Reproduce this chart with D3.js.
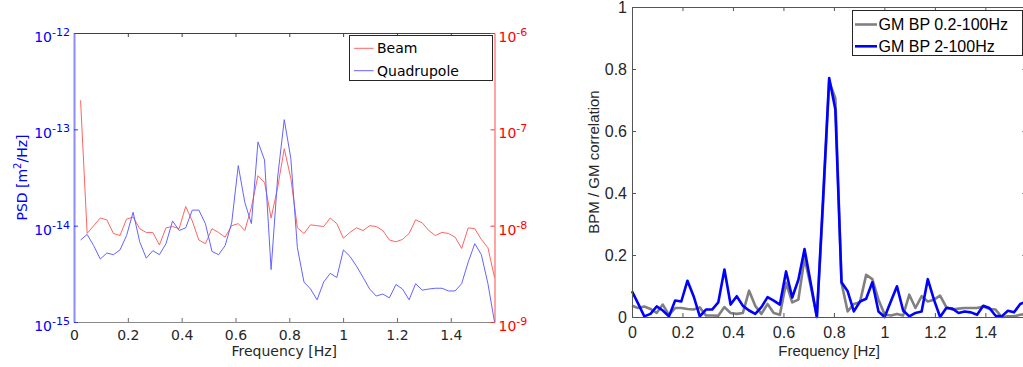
<!DOCTYPE html>
<html>
<head>
<meta charset="utf-8">
<script src="https://cdn.jsdelivr.net/npm/d3@7"></script>
<style>
  body { margin: 0; background: #fff; }
  svg { display: block; }
</style>
</head>
<body>
<svg id="fig" width="1023" height="367"></svg>
<script>
// Frequency resolution of the spectra (Hz per bin)
const STEP = 25 / 1024;

// PSD of the beam position [m^2/Hz], bins 1..64
const beamPSD = [
  2.0e-7, 8.3e-9, 1.0e-8, 1.2e-8, 1.15e-8, 8.3e-9, 7.9e-9, 1.17e-8, 1.23e-8, 9.3e-9,
  8.5e-9, 8.5e-9, 6.3e-9, 9.5e-9, 9.8e-9, 9.3e-9, 1.58e-8, 1.12e-8, 7.1e-9, 6.5e-9,
  9.3e-9, 8.5e-9, 7.6e-9, 1.0e-8, 1.05e-8, 8.9e-9, 1.55e-8, 3.3e-8, 2.8e-8, 1.2e-8,
  2.5e-8, 6.3e-8, 3.1e-8, 9.5e-9, 8.3e-9, 1.02e-8, 1.0e-8, 9.8e-9, 1.2e-8, 1.05e-8,
  7.4e-9, 8.5e-9, 9.5e-9, 8.9e-9, 1.0e-8, 9.8e-9, 8.9e-9, 7.1e-9, 6.8e-9, 7.2e-9,
  8.3e-9, 1.15e-8, 1.07e-8, 8.9e-9, 7.9e-9, 8.5e-9, 8.3e-9, 7.6e-9, 5.8e-9, 9.5e-9,
  9.3e-9, 7.2e-9, 5.9e-9, 2.9e-9
];

// PSD of the quadrupole motion [m^2/Hz], bins 1..64
const quadPSD = [
  7.1e-15, 8.1e-15, 6.2e-15, 4.5e-15, 5.2e-15, 5.0e-15, 5.6e-15, 7.9e-15, 1.38e-14, 6.8e-15,
  4.6e-15, 5.5e-15, 5.0e-15, 6.5e-15, 1.12e-14, 8.9e-15, 9.5e-15, 1.45e-14, 1.45e-14, 1.05e-14,
  5.4e-15, 5.0e-15, 6.2e-15, 1.07e-14, 4.2e-14, 1.74e-14, 1.05e-14, 7.4e-14, 4.8e-14, 3.5e-15,
  3.2e-14, 1.26e-13, 5.0e-14, 5.9e-15, 2.6e-15, 2.2e-15, 1.7e-15, 2.6e-15, 3.2e-15, 2.9e-15,
  5.6e-15, 4.8e-15, 3.8e-15, 2.9e-15, 2.2e-15, 1.86e-15, 1.95e-15, 1.78e-15, 2.45e-15, 2.2e-15,
  1.7e-15, 2.5e-15, 2.14e-15, 2.2e-15, 2.24e-15, 2.24e-15, 2.1e-15, 2.1e-15, 2.5e-15, 4.2e-15,
  6.5e-15, 5.0e-15, 2.5e-15, 1.0e-15
];

// BPM / ground-motion correlation, bins 0..64
const corrBP02 = [
  0.036, 0.029, 0.034, 0.026, 0.013, 0.040, 0.007, 0.029, 0.029, 0.026,
  0.024, 0.031, 0.005, 0.005, 0.004, 0.032, 0.013, 0.010, 0.013, 0.085,
  0.036, 0.010, 0.042, 0.013, 0.007, 0.110, 0.047, 0.056, 0.190, 0.100,
  0.000, 0.360, 0.760, 0.706, 0.110, 0.018, 0.042, 0.048, 0.136, 0.122,
  0.056, 0.008, 0.005, 0.010, 0.005, 0.072, 0.029, 0.067, 0.050, 0.056,
  0.069, 0.032, 0.024, 0.027, 0.029, 0.029, 0.029, 0.034, 0.026, 0.024,
  0.000, 0.002, 0.002, 0.007, 0.010
];
const corrBP2 = [
  0.083, 0.043, 0.002, 0.010, 0.034, 0.021, 0.002, 0.053, 0.050, 0.117,
  0.067, 0.002, 0.024, 0.024, 0.047, 0.153, 0.040, 0.067, 0.036, 0.021,
  0.010, 0.032, 0.064, 0.053, 0.040, 0.147, 0.063, 0.120, 0.219, 0.110,
  0.000, 0.380, 0.771, 0.669, 0.112, 0.083, 0.018, 0.050, 0.059, 0.112,
  0.018, 0.000, 0.050, 0.099, 0.021, 0.002, 0.013, 0.018, 0.122, 0.056,
  0.000, 0.029, 0.027, 0.013, 0.018, 0.015, 0.007, 0.036, 0.029, 0.004,
  0.002, 0.020, 0.015, 0.042, 0.050
];

const freqTicks = [0, 0.2, 0.4, 0.6, 0.8, 1, 1.2, 1.4];
const corrTicks = [0, 0.2, 0.4, 0.6, 0.8, 1];
const quadDecades = [1e-15, 1e-14, 1e-13, 1e-12];
const beamDecades = [1e-9, 1e-8, 1e-7, 1e-6];
const psdNames = ["Beam", "Quadrupole"];
const corrNames = ["GM BP 0.2-100Hz", "GM BP 2-100Hz"];

const svg = d3.select("#fig");
const fmt = d3.format("~g");
const FONT_L = "'DejaVu Sans', Verdana, sans-serif";
const FONT_R = "'Liberation Sans', Arial, Helvetica, sans-serif";

/* ---------------- Left panel: PSD, two log axes ---------------- */
const L = { x0: 74, x1: 494.5, y0: 322, y1: 33 };
const xL = d3.scaleLinear().domain([0, 64 * STEP]).range([L.x0, L.x1]);
const yQ = d3.scaleLog().domain([1e-15, 1e-12]).range([L.y0, L.y1]);
const yB = d3.scaleLog().domain([1e-9, 1e-6]).range([L.y0, L.y1]);

const gL = svg.append("g").attr("font-family", FONT_L);

// bottom axis with labels
const axB = gL.append("g").attr("transform", `translate(0,${L.y0})`)
  .call(d3.axisBottom(xL).tickValues(freqTicks).tickFormat(fmt)
    .tickSizeInner(-4).tickSizeOuter(0).tickPadding(8))
  .attr("font-family", FONT_L).attr("font-size", 14);
axB.select(".domain").attr("stroke", "#8a8a8a");
axB.selectAll(".tick line").attr("stroke", "#6a6a6a");
axB.selectAll("text").attr("fill", "#262626");

// top axis (ticks only)
const axT = gL.append("g").attr("transform", `translate(0,${L.y1})`)
  .call(d3.axisTop(xL).tickValues(freqTicks).tickFormat("")
    .tickSizeInner(-4).tickSizeOuter(0));
axT.select(".domain").attr("stroke", "#404040");
axT.selectAll(".tick line").attr("stroke", "#404040");

// power-of-ten labels: "10" with a raised exponent
function decadeLabel(sel) {
  sel.each(function (d) {
    const t = d3.select(this);
    t.text(null).attr("dy", null).attr("y", 8.5);
    t.append("tspan").attr("font-size", 14).text("10");
    t.append("tspan").attr("font-size", 11).attr("dy", -6).text(Math.round(Math.log10(d)));
  });
}

// left (quadrupole) log axis
const axQ = gL.append("g").attr("transform", `translate(${L.x0},0)`)
  .call(d3.axisLeft(yQ).tickValues(quadDecades).tickSizeInner(-4).tickSizeOuter(0).tickPadding(4))
  .attr("font-family", FONT_L);
axQ.select(".domain").attr("stroke", "#8c8cff").attr("stroke-width", 2);
axQ.selectAll(".tick line").attr("stroke", "#3030ff");
axQ.selectAll("text").attr("fill", "#0000ff").call(decadeLabel);

// right (beam) log axis
const axBm = gL.append("g").attr("transform", `translate(${L.x1},0)`)
  .call(d3.axisRight(yB).tickValues(beamDecades).tickSizeInner(-4).tickSizeOuter(0).tickPadding(4))
  .attr("font-family", FONT_L);
axBm.select(".domain").attr("stroke", "#ff8c8c").attr("stroke-width", 1.6);
axBm.selectAll(".tick line").attr("stroke", "#ff3030");
axBm.selectAll("text").attr("fill", "#ff0000").call(decadeLabel);

// series
const lineBeam = d3.line().x((d, i) => xL((i + 1) * STEP)).y(d => yB(d));
const lineQuad = d3.line().x((d, i) => xL((i + 1) * STEP)).y(d => yQ(d));
gL.append("path").datum(beamPSD).attr("d", lineBeam)
  .attr("fill", "none").attr("stroke", "#ff6464").attr("stroke-width", 1);
gL.append("path").datum(quadPSD).attr("d", lineQuad)
  .attr("fill", "none").attr("stroke", "#6464ff").attr("stroke-width", 1);

// axis titles
gL.append("text").attr("x", (L.x0 + L.x1) / 2).attr("y", 356)
  .attr("text-anchor", "middle").attr("font-size", 14).attr("fill", "#262626")
  .text("Frequency [Hz]");
const psdLab = gL.append("text")
  .attr("transform", `translate(26.5,${(L.y0 + L.y1) / 2}) rotate(-90)`)
  .attr("text-anchor", "middle").attr("font-size", 14).attr("fill", "#0000ff");
psdLab.append("tspan").text("PSD [m");
psdLab.append("tspan").attr("font-size", 10).attr("dy", -6).text("2");
psdLab.append("tspan").attr("dy", 6).text("/Hz]");

// legend
const legL = gL.append("g");
legL.append("rect").attr("x", 349.5).attr("y", 35.5).attr("width", 143).attr("height", 45)
  .attr("fill", "#fff").attr("stroke", "#262626").attr("stroke-width", 1);
const psdColors = ["#ff6464", "#6464ff"];
psdNames.forEach((name, i) => {
  const cy = 48.3 + i * 22.4;
  legL.append("line").attr("x1", 354).attr("x2", 373.5).attr("y1", cy).attr("y2", cy)
    .attr("stroke", psdColors[i]).attr("stroke-width", 1);
  legL.append("text").attr("x", 377).attr("y", cy + 5).attr("font-size", 14)
    .attr("fill", "#000").text(name);
});

/* ---------------- Right panel: correlation ---------------- */
const R = { x0: 632, x1: 632 + 64 * STEP * 252.4, y0: 317, y1: 7 };
const xR = d3.scaleLinear().domain([0, 64 * STEP]).range([R.x0, R.x1]);
const yC = d3.scaleLinear().domain([0, 1]).range([R.y0, R.y1]);

const gR = svg.append("g").attr("font-family", FONT_R);

const lineCorr = d3.line().x((d, i) => xR(i * STEP)).y(d => yC(d));
gR.append("path").datum(corrBP02).attr("d", lineCorr)
  .attr("fill", "none").attr("stroke", "#808080").attr("stroke-width", 2.6)
  .attr("stroke-linejoin", "round");
gR.append("path").datum(corrBP2).attr("d", lineCorr)
  .attr("fill", "none").attr("stroke", "#0000ff").attr("stroke-width", 2.6)
  .attr("stroke-linejoin", "round");

const axRB = gR.append("g").attr("transform", `translate(0,${R.y0})`)
  .call(d3.axisBottom(xR).tickValues(freqTicks).tickFormat(fmt)
    .tickSizeInner(-4).tickSizeOuter(0).tickPadding(10));
const axRT = gR.append("g").attr("transform", `translate(0,${R.y1})`)
  .call(d3.axisTop(xR).tickValues(freqTicks).tickFormat("")
    .tickSizeInner(-4).tickSizeOuter(0));
const axRL = gR.append("g").attr("transform", `translate(${R.x0},0)`)
  .call(d3.axisLeft(yC).tickValues(corrTicks).tickFormat(fmt)
    .tickSizeInner(-4).tickSizeOuter(0).tickPadding(5));
const axRR = gR.append("g").attr("transform", `translate(${R.x1},0)`)
  .call(d3.axisRight(yC).tickValues(corrTicks).tickFormat("")
    .tickSizeInner(-4).tickSizeOuter(0));
[axRB, axRT, axRL, axRR].forEach(a => {
  a.attr("font-family", FONT_R).attr("font-size", 16);
  a.select(".domain").attr("stroke", "#555").attr("stroke-width", 1);
  a.selectAll(".tick line").attr("stroke", "#555");
  a.selectAll("text").attr("fill", "#262626");
});

gR.append("text").attr("x", (R.x0 + R.x1) / 2).attr("y", 356)
  .attr("text-anchor", "middle").attr("font-size", 15).attr("fill", "#262626")
  .text("Frequency [Hz]");
gR.append("text")
  .attr("transform", `translate(599,${(R.y0 + R.y1) / 2}) rotate(-90)`)
  .attr("text-anchor", "middle").attr("font-size", 15).attr("fill", "#262626")
  .text("BPM / GM correlation");

const legR = gR.append("g");
legR.append("rect").attr("x", 852.5).attr("y", 10.5).attr("width", 170).attr("height", 45)
  .attr("fill", "#fff").attr("stroke", "#262626").attr("stroke-width", 1);
const corrColors = ["#808080", "#0000ff"];
corrNames.forEach((name, i) => {
  const cy = 24.5 + i * 21.8;
  legR.append("line").attr("x1", 855).attr("x2", 877).attr("y1", cy).attr("y2", cy)
    .attr("stroke", corrColors[i]).attr("stroke-width", 2.6);
  legR.append("text").attr("x", 878.5).attr("y", cy + 5.6).attr("font-size", 16)
    .attr("fill", "#000").text(name);
});
</script>
</body>
</html>
